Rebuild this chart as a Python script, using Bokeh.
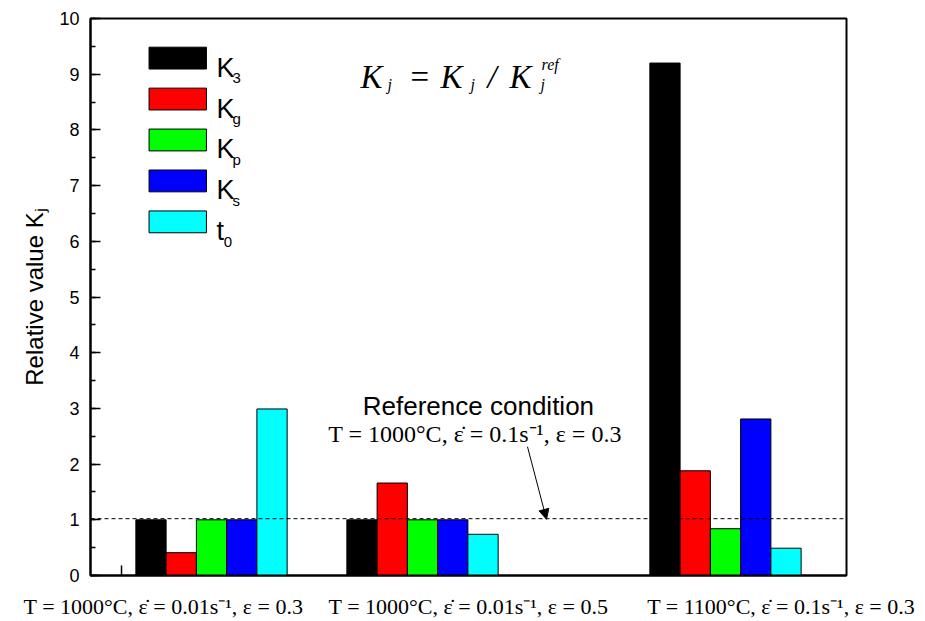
import math
from bokeh.plotting import figure
from bokeh.models import Range1d, FixedTicker, SingleIntervalTicker, Label, Arrow, NormalHead, Span
from bokeh.embed import file_html
from bokeh.resources import INLINE

# ---- data ----
conditions = ["T = 1000°C, ε̇ = 0.01s⁻¹, ε = 0.3",
              "T = 1000°C, ε̇ = 0.01s⁻¹, ε = 0.5",
              "T = 1100°C, ε̇ = 0.1s⁻¹, ε = 0.3"]
group_x = [1.0, 2.0, 3.436]
label_x = [0.7725, 2.218, 3.70]
series_main = ["K", "K", "K", "K", "t"]
series_sub = ["3", "g", "p", "s", "0"]
colors = ["#000000", "#ff0000", "#00ff00", "#0000ff", "#00ffff"]
K3 = [1.0, 1.0, 9.2]
Kg = [0.41, 1.66, 1.88]
Kp = [1.0, 1.0, 0.84]
Ks = [1.0, 1.0, 2.81]
t0 = [2.99, 0.74, 0.49]
series_values = [K3, Kg, Kp, Ks, t0]
ref_level = 1.02
y_ticks_interval = 1
x_tick = 0.5735

SANS = "Liberation Sans"
SERIF = "Liberation Serif"

bar_w = 0.1434

p = figure(width=925, height=621, output_backend="svg", toolbar_location=None,
           x_range=Range1d(0.4265, 4.0095), y_range=Range1d(0, 10),
           min_border_left=90, min_border_right=79, min_border_top=18, min_border_bottom=44)
p.background_fill_color = "white"
p.border_fill_color = "white"
p.xgrid.visible = False
p.ygrid.visible = False
p.outline_line_color = "black"
p.outline_line_width = 2

# y axis
p.yaxis.ticker = SingleIntervalTicker(interval=y_ticks_interval, num_minor_ticks=2)
p.yaxis.major_tick_in = 10
p.yaxis.major_tick_out = 0
p.yaxis.minor_tick_in = 5
p.yaxis.minor_tick_out = 0
p.yaxis.axis_line_width = 2
p.yaxis.major_tick_line_width = 1.5
p.yaxis.minor_tick_line_width = 1.5
p.yaxis.major_label_text_font = SANS
p.yaxis.major_label_text_font_size = "18px"
p.yaxis.major_label_text_color = "black"
p.yaxis.major_label_standoff = 11
p.yaxis.axis_label = "Relative value Kⱼ"
p.yaxis.axis_label_text_font = SANS
p.yaxis.axis_label_text_font_size = "24px"
p.yaxis.axis_label_text_font_style = "normal"
p.yaxis.axis_label_text_color = "black"
p.yaxis.axis_label_standoff = 8

# x axis: condition labels, no visible ticks
p.xaxis.ticker = FixedTicker(ticks=label_x)
p.xaxis.major_label_overrides = {lx: txt for lx, txt in zip(label_x, conditions)}
p.xaxis.major_tick_line_color = None
p.xaxis.minor_tick_line_color = None
p.xaxis.major_tick_in = 0
p.xaxis.major_tick_out = 0
p.xaxis.axis_line_width = 2
p.xaxis.major_label_text_font = SERIF
p.xaxis.major_label_text_font_size = "22px"
p.xaxis.major_label_text_color = "black"
p.xaxis.major_label_standoff = 18

# the single short tick on the bottom axis
p.segment(x0=[x_tick], y0=[0], x1=[x_tick], y1=[0.18], line_color="black", line_width=1.5)

# bars
for i, (vals, col) in enumerate(zip(series_values, colors)):
    xs = [g + (i - 2) * bar_w for g in group_x]
    p.vbar(x=xs, top=vals, width=bar_w, bottom=0, fill_color=col,
           line_color="black", line_width=1)

# reference dashed line
p.add_layout(Span(location=ref_level, dimension="width", line_color="black",
                  line_dash="4 3", line_width=1))

# legend (manual, for subscripts)
for i, (m, s, col) in enumerate(zip(series_main, series_sub, colors)):
    yc = 9.289 - i * 0.735
    p.quad(left=[0.704], right=[0.976], bottom=[yc - 0.196], top=[yc + 0.196],
           fill_color=col, line_color="black", line_width=1)
    p.add_layout(Label(x=1.024, y=yc - 0.17, text=m, text_font=SANS, text_font_size="27px",
                       text_baseline="alphabetic", text_color="black"))
    sx = 1.1 if m == "K" else 1.058
    p.add_layout(Label(x=sx, y=yc - 0.357, text=s, text_font=SANS, text_font_size="15px",
                       text_baseline="alphabetic", text_color="black"))

# formula K_j = K_j / K_j^ref
formula = [("K", 1.706, 8.943, "33px"), ("j", 1.834, 8.8125, "16px"),
           ("=", 1.943, 8.943, "33px"), ("K", 2.085, 8.943, "33px"),
           ("j", 2.2275, 8.8125, "16px"), ("/", 2.308, 8.943, "33px"),
           ("K", 2.412, 8.943, "33px"), ("ref", 2.564, 9.17, "16px"),
           ("j", 2.559, 8.8125, "16px")]
for t, x, y, fs in formula:
    p.add_layout(Label(x=x, y=y, text=t, text_font=SERIF, text_font_size=fs,
                       text_font_style="normal" if t == "=" else "italic",
                       text_baseline="alphabetic", text_color="black"))

# reference condition annotation
p.add_layout(Label(x=2.265, y=3.05, text="Reference condition", text_font=SANS,
                   text_font_size="26px", text_align="center", text_baseline="alphabetic",
                   text_color="black"))
p.add_layout(Label(x=2.249, y=2.545, text="T = 1000°C, ε̇ = 0.1s⁻¹, ε = 0.3", text_font=SERIF,
                   text_font_size="24px", text_align="center", text_baseline="alphabetic",
                   text_color="black"))
p.add_layout(Arrow(end=NormalHead(size=10, fill_color="black", line_color="black", line_width=1),
                   x_start=2.4976, y_start=2.3125, x_end=2.5877, y_end=1.009,
                   line_color="black", line_width=1))

open("out.html", "w").write(file_html(p, INLINE))
